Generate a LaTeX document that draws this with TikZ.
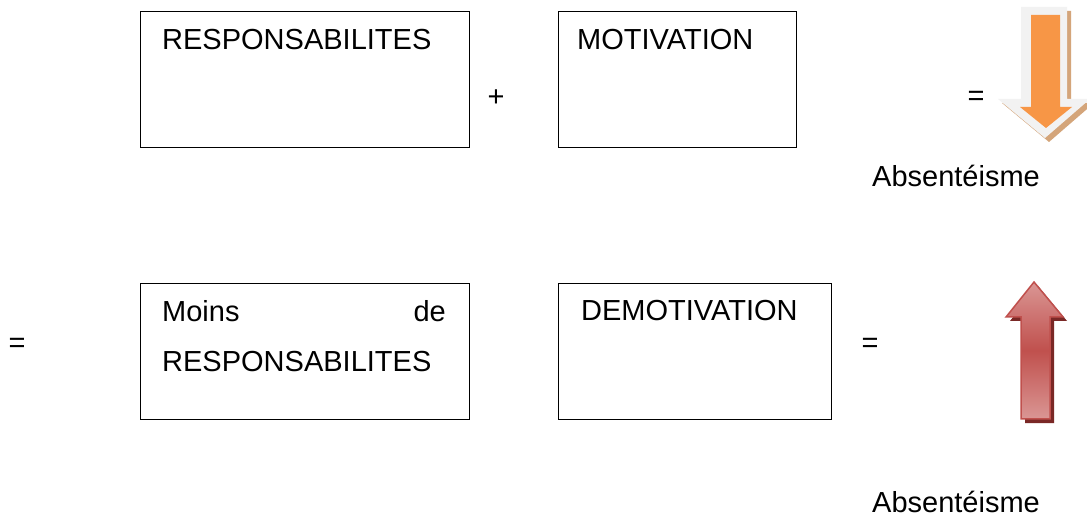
\documentclass[tikz,border=0pt]{standalone}
\usepackage{fontspec}
\setmainfont{Liberation Sans}
\definecolor{arrorange}{HTML}{F79646}
\definecolor{arrtan}{HTML}{D4A57A}
\definecolor{arrgrey}{HTML}{F2F2F2}
\definecolor{arrred}{HTML}{C0504D}
\definecolor{arrpink}{HTML}{DA9694}
\definecolor{arrdark}{HTML}{7A2826}
\begin{document}
\begin{tikzpicture}[x=1pt,y=-1pt,
        txt/.style={font=\fontsize{29}{35}\selectfont,inner sep=0pt,anchor=base west},
        sign/.style={font=\fontsize{29}{35}\selectfont,inner sep=0pt,anchor=base},
        box/.style={draw,line width=1.3pt,anchor=north west,inner sep=0pt}]
            \useasboundingbox[fill=white] (0,0) rectangle (1087,518);

            \node[box,minimum width=329pt,minimum height=136pt] (resp) at (140,11) {};
            \node[box,minimum width=238pt,minimum height=136pt] (motiv) at (558,11) {};
            \node[box,minimum width=329pt,minimum height=136pt] (moins) at (140,283) {};
            \node[box,minimum width=273pt,minimum height=136pt] (demotiv) at (558,283) {};

            \node[txt] (resptxt) at (162,50) {RESPONSABILITES};
            \node[txt] (motivtxt) at (577,50) {MOTIVATION};
            \node[txt] (moinstxt) at (162,322) {Moins};
            \node[txt,anchor=base east] (detxt) at (446,322) {de};
            \node[txt] (resptxtb) at (162,372) {RESPONSABILITES};
            \node[txt] (demotivtxt) at (581,321) {DEMOTIVATION};

            \node[sign] (plus) at (496,107) {+};
            \node[sign] (eqtop) at (976,106) {=};
            \node[sign] (eqleft) at (17,353) {=};
            \node[sign] (eqmid) at (870,353) {=};

            \node[txt] (absa) at (872,187) {Absentéisme};
            \node[txt] (absb) at (872,512) {Absentéisme};

            \fill[arrtan,shift={(4,4)}] (1021,7) -- (1067,7) -- (1067,99) -- (1090,99) -- (1045,138) -- (998,99) -- (1021,99) -- cycle;
            \fill[arrgrey] (1021,7) -- (1067,7) -- (1067,99) -- (1090,99) -- (1045,138) -- (998,99) -- (1021,99) -- cycle;
            \fill[arrorange] (1031,15) -- (1060,15) -- (1060,107) -- (1072,107) -- (1046,128) -- (1020,107) -- (1031,107) -- cycle;

            \fill[arrdark,shift={(4,4)}] (1034,282) -- (1063,317) -- (1050,317) -- (1050,419) -- (1021,419) -- (1021,317) -- (1006,317) -- cycle;
            \draw[arrred,line width=1.5pt,top color=arrpink,bottom color=arrpink,middle color=arrred] (1034,282) -- (1063,317) -- (1050,317) -- (1050,419) -- (1021,419) -- (1021,317) -- (1006,317) -- cycle;
        \end{tikzpicture}
\end{document}
